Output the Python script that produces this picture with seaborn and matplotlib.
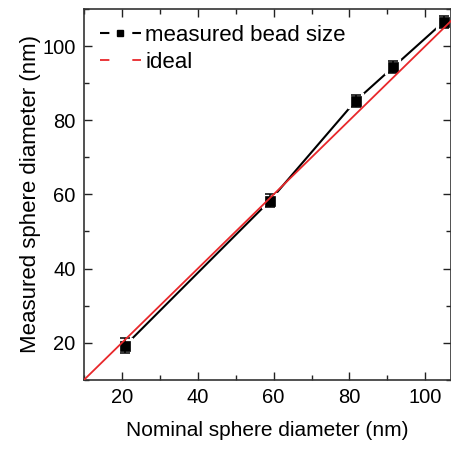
import numpy as np
import pandas as pd
import seaborn as sns
import matplotlib.pyplot as plt
from matplotlib.lines import Line2D
from matplotlib.ticker import MultipleLocator

# measured bead sizes vs nominal size
nominal = [20.8, 59.0, 81.6, 91.5, 104.8]
measured = [19.2, 58.3, 85.2, 94.3, 106.5]
err = [2.1, 1.8, 1.6, 1.6, 1.5]
ideal_x = [10, 110]
ideal_y = [10, 110]

df = pd.DataFrame({'nominal': nominal, 'measured': measured, 'err': err})
df_ideal = pd.DataFrame({'x': ideal_x, 'y': ideal_y})

sns.set_style('ticks')
plt.rcParams['font.family'] = ['Liberation Sans', 'DejaVu Sans']
plt.rcParams['text.color'] = 'black'
plt.rcParams['axes.labelcolor'] = 'black'
plt.rcParams['xtick.color'] = 'black'
plt.rcParams['ytick.color'] = 'black'

fig = plt.figure(figsize=(4.52, 4.50), dpi=100)
ax = fig.add_axes([0.186, 0.156, 0.812, 0.824])

# black connecting line, with gaps around the markers (white halo)
sns.lineplot(data=df, x='nominal', y='measured', ax=ax, color='black', lw=1.5,
             zorder=1)
ax.plot(df['nominal'], df['measured'], ls='none', marker='s', ms=6.5,
        mfc='black', mec='white', mew=4.5, zorder=2)
ax.errorbar(df['nominal'], df['measured'], yerr=df['err'], fmt='none',
            ecolor='black', elinewidth=1.1, capsize=3.5, capthick=1.1, zorder=3)
ax.plot(df['nominal'], df['measured'], ls='none', marker='s', ms=6.5,
        mfc='black', mec='black', mew=0.5, zorder=3)

# ideal line
sns.lineplot(data=df_ideal, x='x', y='y', ax=ax, color='#e8282b', lw=1.3, zorder=4)

ax.set_xlim(10, 106.8)
ax.set_ylim(10, 110)
ax.xaxis.set_major_locator(MultipleLocator(20))
ax.xaxis.set_minor_locator(MultipleLocator(10))
ax.yaxis.set_major_locator(MultipleLocator(20))
ax.yaxis.set_minor_locator(MultipleLocator(10))
ax.tick_params(which='both', direction='in', top=True, right=True,
               labelsize=14.5, width=1.0, color='#222222')
ax.tick_params(which='major', length=6, pad=6)
ax.tick_params(which='minor', length=3.5)
for s in ax.spines.values():
    s.set_linewidth(1.2)
    s.set_color('#333333')

ax.set_xlabel('Nominal sphere diameter (nm)', fontsize=15, labelpad=10)
ax.set_ylabel('Measured sphere diameter (nm)', fontsize=16, labelpad=1)

# legend handles: Origin-style line with a gap in the middle
handles = [
    Line2D([], [], color='black', lw=1.5, ls=(0, (4.5, 11)), marker='s', ms=5),
    Line2D([], [], color='#e8282b', lw=1.3, ls=(0, (5.2, 12.7))),
]
ax.legend(handles, ['measured bead size', 'ideal'], loc='upper left',
          frameon=False, fontsize=16, handlelength=1.85, handletextpad=0.2,
          borderaxespad=0.4, labelspacing=0.3, borderpad=0.3)

fig.savefig('out.png', dpi=100)
